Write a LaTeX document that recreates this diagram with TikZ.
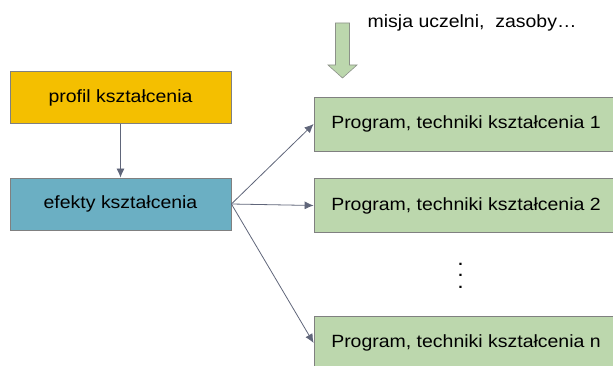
\documentclass[tikz,border=0pt]{standalone}
\usepackage{fontspec}
\setmainfont{Liberation Sans}[FakeStretch=1.1]
\usetikzlibrary{arrows.meta}

\definecolor{profilcol}{RGB}{244,191,0}
\definecolor{efektcol}{RGB}{107,175,195}
\definecolor{progcol}{RGB}{188,215,173}
\definecolor{edgecol}{RGB}{128,128,128}
\definecolor{linkcol}{RGB}{96,102,122}

\begin{document}
\begin{tikzpicture}[x=1pt, y=-1pt,
	box/.style={draw=edgecol, line width=0.8pt, minimum width=221pt, minimum height=52pt, inner sep=0pt, font=\fontsize{17.7}{20}\selectfont},
	progbox/.style={box, fill=progcol, minimum width=304pt, minimum height=54pt},
	link/.style={draw=linkcol, line width=0.8pt, -{Latex[length=9pt,width=8pt]}}]

\useasboundingbox (0,0) rectangle (613,366);

\node[box, fill=profilcol] (profil) at (120.5,97.5) {profil kształcenia};
\node[box, fill=efektcol] (efekty) at (120.5,204) {efekty kształcenia};

\node[progbox] (prog1) at (466,124) {Program, techniki kształcenia 1};
\node[progbox] (prog2) at (466,205.5) {Program, techniki kształcenia 2};
\node[progbox] (progn) at (466,343) {Program, techniki kształcenia n};

\foreach \i in {1,2,3} {
	\node[anchor=base, inner sep=0pt, font=\fontsize{21}{21}\selectfont] (dot\i) at (460.5,253.8+11.5*\i) {.};
}

% green arrow from above
\draw[draw=edgecol!80!progcol, fill=progcol, line width=0.6pt]
	(335.5,23) -- (349.5,23) -- (349.5,65) -- (357,65) -- (342.5,78) -- (328,65) -- (335.5,65) -- cycle;
\node[anchor=base west, inner sep=0pt, font=\fontsize{17.7}{20}\selectfont] (misja) at (367.5,28) {misja uczelni,\ \ zasoby…};

\draw[link] (profil) -- (efekty);
\draw[link] (efekty.east) -- (prog1.west);
\draw[link] (efekty.east) -- (prog2.west);
\draw[link] (efekty.east) -- (progn.west);
\end{tikzpicture}
\end{document}
